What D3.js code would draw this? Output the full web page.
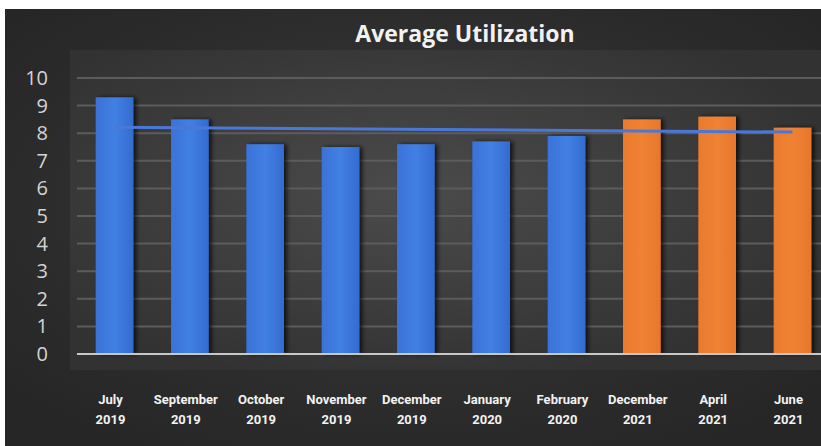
<!DOCTYPE html>
<html>
<head>
<meta charset="utf-8">
<script src="https://cdn.jsdelivr.net/npm/d3@7"></script>
<style>
  html, body { margin: 0; padding: 0; background: #fff; }
  svg { display: block; }
</style>
</head>
<body>
<svg id="chart" width="821" height="446"></svg>
<script>
// data
var months = ["July", "September", "October", "November", "December", "January", "February", "December", "April", "June"];
var years = ["2019", "2019", "2019", "2019", "2019", "2020", "2020", "2021", "2021", "2021"];
var utilization = [9.3, 8.5, 7.6, 7.5, 7.6, 7.7, 7.9, 8.5, 8.6, 8.2];
var isNewPeriod = [false, false, false, false, false, false, false, true, true, true];
// trend line end points (first and last category)
var trendValues = [8.22, 8.04];
var yTicks = [0, 1, 2, 3, 4, 5, 6, 7, 8, 9, 10];

var keys = months.map(function(m, i) { return m + " " + years[i]; });

var svg = d3.select("#chart");
var W = 821, H = 446;

var defs = svg.append("defs");

var bg = defs.append("radialGradient").attr("id", "bgGrad")
    .attr("cx", "50%").attr("cy", "45%").attr("r", "65%");
bg.append("stop").attr("offset", "0%").attr("stop-color", "#3a3a3a");
bg.append("stop").attr("offset", "100%").attr("stop-color", "#262626");

var pg = defs.append("radialGradient").attr("id", "plotGrad")
    .attr("cx", "45%").attr("cy", "45%").attr("r", "60%");
pg.append("stop").attr("offset", "0%").attr("stop-color", "#4b4b4b");
pg.append("stop").attr("offset", "100%").attr("stop-color", "#323232");

var blueGrad = defs.append("linearGradient").attr("id", "blueGrad");
blueGrad.append("stop").attr("offset", "0%").attr("stop-color", "#3a72d8");
blueGrad.append("stop").attr("offset", "50%").attr("stop-color", "#4280e4");
blueGrad.append("stop").attr("offset", "100%").attr("stop-color", "#346bd0");

var orangeGrad = defs.append("linearGradient").attr("id", "orangeGrad");
orangeGrad.append("stop").attr("offset", "0%").attr("stop-color", "#ea7a2e");
orangeGrad.append("stop").attr("offset", "50%").attr("stop-color", "#f08234");
orangeGrad.append("stop").attr("offset", "100%").attr("stop-color", "#e6772c");

var shadow = defs.append("filter").attr("id", "shadow")
    .attr("x", "-30%").attr("y", "-10%").attr("width", "160%").attr("height", "120%");
shadow.append("feDropShadow").attr("dx", 3).attr("dy", 0).attr("stdDeviation", 2)
    .attr("flood-color", "#000").attr("flood-opacity", 0.7);

// page background with white edge like the screenshot
svg.append("rect").attr("width", W).attr("height", H).attr("fill", "#ffffff");
svg.append("rect").attr("x", 5).attr("y", 9).attr("width", W - 5).attr("height", H - 9)
    .attr("fill", "url(#bgGrad)");

// plot area
svg.append("rect").attr("x", 70).attr("y", 50).attr("width", W - 70).attr("height", 320)
    .attr("fill", "url(#plotGrad)");

var gridLeft = 77;
var x = d3.scaleBand().domain(keys).range([58, 849]).padding(0.5);
var y = d3.scaleLinear().domain([0, 10]).range([354, 78]);

// gridlines
svg.append("g")
    .selectAll("line")
    .data(yTicks.slice(1))
    .enter().append("line")
    .attr("x1", gridLeft).attr("x2", W)
    .attr("y1", function(d) { return y(d); })
    .attr("y2", function(d) { return y(d); })
    .attr("stroke", "#5c5c5c").attr("stroke-width", 2);

// y axis labels
var yAxis = d3.axisLeft(y).tickValues(yTicks).tickSize(0).tickPadding(0);
var gy = svg.append("g").attr("transform", "translate(48,0)").call(yAxis);
gy.select(".domain").remove();
gy.selectAll("text")
    .attr("fill", "#d4d4d4")
    .style("font-family", "'Open Sans', 'DejaVu Sans', sans-serif")
    .style("font-size", "20px");

// bars
svg.append("g")
    .selectAll("rect")
    .data(utilization)
    .enter().append("rect")
    .attr("x", function(d, i) { return x(keys[i]); })
    .attr("y", function(d) { return y(d); })
    .attr("width", x.bandwidth())
    .attr("height", function(d) { return y(0) - y(d); })
    .attr("fill", function(d, i) { return isNewPeriod[i] ? "url(#orangeGrad)" : "url(#blueGrad)"; })
    .attr("filter", "url(#shadow)");

// baseline
svg.append("line")
    .attr("x1", gridLeft).attr("x2", W)
    .attr("y1", y(0)).attr("y2", y(0))
    .attr("stroke", "#c8c8c8").attr("stroke-width", 2);

// trend line
var first = keys[0], last = keys[keys.length - 1];
svg.append("line")
    .attr("x1", x(first) + x.bandwidth() / 2)
    .attr("x2", x(last) + x.bandwidth() / 2)
    .attr("y1", y(trendValues[0]))
    .attr("y2", y(trendValues[1]))
    .attr("stroke", "#4b78d6").attr("stroke-width", 3);

// x labels
var cx = function(d) { return x(d) + x.bandwidth() / 2 - 4; };
var labels = svg.append("g")
    .selectAll("text")
    .data(keys)
    .enter().append("text")
    .attr("x", cx)
    .attr("y", 404)
    .attr("text-anchor", "middle")
    .attr("fill", "#f2f2f2")
    .style("font-family", "'Liberation Sans Narrow', 'Roboto', sans-serif")
    .style("font-weight", "bold")
    .style("font-size", "13px");
labels.append("tspan").attr("x", cx)
    .text(function(d, i) { return months[i]; });
labels.append("tspan").attr("x", cx)
    .attr("dy", 20)
    .text(function(d, i) { return years[i]; });

// title
svg.append("text")
    .attr("x", 465).attr("y", 42)
    .attr("text-anchor", "middle")
    .attr("fill", "#f2f2f2")
    .style("font-family", "'Open Sans', sans-serif")
    .style("font-weight", "bold")
    .style("font-size", "23px")
    .text("Average Utilization");
</script>
</body>
</html>
